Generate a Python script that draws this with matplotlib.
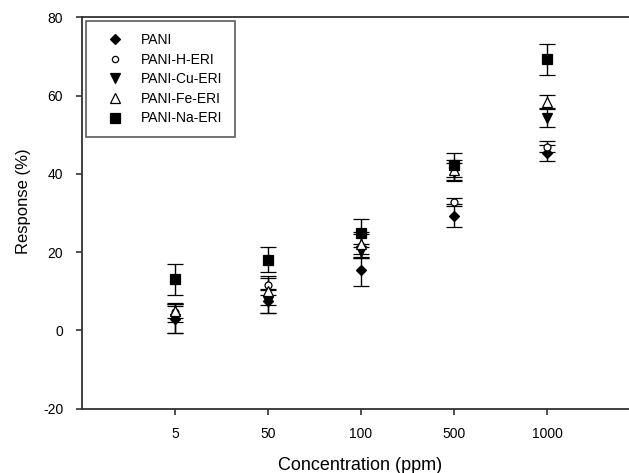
import numpy as np
import matplotlib.pyplot as plt
from matplotlib.lines import Line2D

plt.rcParams['font.family'] = ['Liberation Sans', 'DejaVu Sans']
plt.rcParams['axes.unicode_minus'] = False

conc = ['5', '50', '100', '500', '1000']

pani = [2.8, 7.5, 15.4, 29.3, 45.3]
pani_err = [3.5, 3.0, 4.0, 3.0, 2.0]
h_eri = [4.6, 11.5, 21.6, 32.8, 47.0]
h_eri_err = [2.4, 2.4, 3.0, 1.0, 1.5]
cu_eri = [3.0, 7.4, 20.2, 40.5, 54.3]
cu_eri_err = [3.6, 3.0, 1.8, 2.2, 2.2]
fe_eri = [5.0, 10.0, 22.0, 41.0, 58.5]
fe_eri_err = [1.8, 3.5, 3.2, 2.5, 1.7]
na_eri = [13.0, 18.1, 24.9, 42.3, 69.3]
na_eri_err = [4.0, 3.2, 3.6, 3.0, 3.9]

fig = plt.figure(figsize=(6.29, 4.73), dpi=100)
ax = fig.add_axes([82/629, 64.5/473, 558/629, 391/473])

x = np.arange(1, len(conc) + 1)
series = [
    (pani, pani_err, 'D', 'black', 'PANI', 5.5),
    (h_eri, h_eri_err, 'o', 'white', 'PANI-H-ERI', 5),
    (cu_eri, cu_eri_err, 'v', 'black', 'PANI-Cu-ERI', 7),
    (fe_eri, fe_eri_err, '^', 'white', 'PANI-Fe-ERI', 7),
    (na_eri, na_eri_err, 's', 'black', 'PANI-Na-ERI', 7),
]
handles = []
for y, err, m, fc, lab, ms in series:
    ax.errorbar(x, y, yerr=err, fmt=m, mfc=fc, mec='black', mew=0.9, ms=ms,
                ecolor='black', elinewidth=1.0, capsize=5.5, capthick=1.0)
    handles.append(Line2D([], [], ls='none', marker=m, mfc=fc, mec='black',
                          mew=0.9, ms=ms - 0.5, label=lab))

ax.set_xlim(0, 6)
ax.set_ylim(-20, 80)
ax.set_xticks(x)
ax.set_xticklabels(conc)
ax.set_yticks([-20, 0, 20, 40, 60, 80])

for side in ['left', 'bottom', 'top']:
    ax.spines[side].set_linewidth(1.3)
    ax.spines[side].set_color('#333333')
ax.spines['right'].set_visible(False)

ax.tick_params(axis='y', direction='out', length=4.5, width=1.2, pad=9,
               labelsize=10, color='#333333')
ax.tick_params(axis='x', direction='out', length=4, width=1.2, pad=9,
               labelsize=10, color='#333333')

ax.set_xlabel('Concentration (ppm)', fontsize=13)
ax.set_ylabel('Response (%)', fontsize=12)
ax.xaxis.set_label_coords(0.498, -0.125)
ax.yaxis.set_label_coords(-0.092, 0.53)

leg = ax.legend(handles=handles, loc='upper left',
                bbox_to_anchor=(0.008, 0.99), fontsize=10,
                frameon=True, fancybox=False, edgecolor='#333333',
                handletextpad=0.65, labelspacing=0.4, borderpad=0.85,
                borderaxespad=0.0, handlelength=2.45)
leg.get_frame().set_linewidth(1.2)

fig.savefig('out.png', dpi=100)
